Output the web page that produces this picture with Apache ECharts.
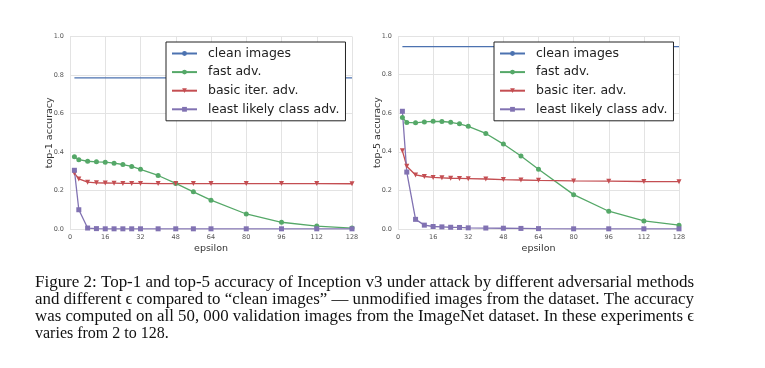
<!DOCTYPE html>
<html><head><meta charset="utf-8">
<script src="https://cdn.jsdelivr.net/npm/echarts@6/dist/echarts.min.js"></script>
<style>html,body{margin:0;padding:0;background:#fff}#c{width:765px;height:368px}</style>
</head><body><div id="c"></div>
<script>
const epsilons = [2,4,8,12,16,20,24,28,32,40,48,56,64,80,96,112,128];
const xTicks = [0,16,32,48,64,80,96,112,128];
const yTicks = [0.0,0.2,0.4,0.6,0.8,1.0];
const seriesNames = ['clean images','fast adv.','basic iter. adv.','least likely class adv.'];

const top1Clean = 0.785;
const top1Fast  = [0.375,0.360,0.352,0.349,0.347,0.342,0.335,0.325,0.310,0.278,0.237,0.193,0.150,0.078,0.035,0.015,0.005];
const top1Basic = [0.290,0.260,0.243,0.240,0.239,0.238,0.237,0.237,0.237,0.236,0.236,0.236,0.236,0.236,0.236,0.236,0.235];
const top1LL    = [0.305,0.100,0.005,0.002,0.001,0.001,0.001,0.001,0.001,0.001,0.001,0.001,0.001,0.001,0.001,0.001,0.001];

const top5Clean = 0.945;
const top5Fast  = [0.578,0.552,0.550,0.555,0.558,0.557,0.553,0.545,0.532,0.495,0.440,0.378,0.310,0.178,0.092,0.042,0.020];
const top5Basic = [0.405,0.325,0.280,0.272,0.267,0.265,0.263,0.262,0.261,0.259,0.256,0.254,0.252,0.249,0.248,0.246,0.245];
const top5LL    = [0.610,0.295,0.050,0.020,0.013,0.011,0.009,0.008,0.006,0.005,0.004,0.003,0.002,0.001,0.001,0.001,0.001];

const captionLines = [
  'Figure 2: Top-1 and top-5 accuracy of Inception v3 under attack by different adversarial methods',
  'and different \u03F5 compared to \u201Cclean images\u201D \u2014 unmodified images from the dataset. The accuracy',
  'was computed on all 50, 000 validation images from the ImageNet dataset. In these experiments \u03F5',
  'varies from 2 to 128.'
];
const captionJustify = [true, true, true, false];

const COLORS = ['#4C72B0','#55A868','#C44E52','#8172B2'];
const zip = (xs, ys) => xs.map((x,i)=>[x, ys[i]]);
const flat = (xs, v) => xs.map(x=>[x, v]);

function xAxis(gi){
  return {type:'value', gridIndex:gi, min:0, max:128, interval:16,
    name:'epsilon', nameLocation:'middle', nameGap:14.5, nameMoveOverlap:false,
    nameTextStyle:{fontFamily:'DejaVu Sans', fontSize:9.5, color:'#333'},
    axisLine:{show:false}, axisTick:{show:false},
    axisLabel:{fontFamily:'DejaVu Sans', fontSize:6.5, color:'#555', margin:5},
    splitLine:{show:true, lineStyle:{color:'#e3e3e3', width:1}}};
}
function yAxis(gi, name){
  return {type:'value', gridIndex:gi, min:0, max:1, interval:0.2,
    name:name, nameLocation:'middle', nameGap:15, nameMoveOverlap:false,
    nameTextStyle:{fontFamily:'DejaVu Sans', fontSize:9.5, color:'#333'},
    axisLine:{show:false}, axisTick:{show:false},
    axisLabel:{fontFamily:'DejaVu Sans', fontSize:6.5, color:'#555', margin:6, formatter:v=>v.toFixed(1)},
    splitLine:{show:true, lineStyle:{color:'#e3e3e3', width:1}}};
}
function mk(gi, clean, fast, basic, ll){
  const base = {type:'line', xAxisIndex:gi, yAxisIndex:gi, animation:false, lineStyle:{width:1.3}};
  return [
    Object.assign({}, base, {name:seriesNames[0], data:flat(epsilons, clean), symbol:'none', color:COLORS[0]}),
    Object.assign({}, base, {name:seriesNames[1], data:zip(epsilons, fast), symbol:'circle', symbolSize:5, color:COLORS[1]}),
    Object.assign({}, base, {name:seriesNames[2], data:zip(epsilons, basic), symbol:'triangle', symbolRotate:180, symbolSize:5, color:COLORS[2]}),
    Object.assign({}, base, {name:seriesNames[3], data:zip(epsilons, ll), symbol:'rect', symbolSize:5, color:COLORS[3]})
  ];
}
function legend(left){
  return {left:left, top:42, orient:'vertical', data:seriesNames,
    backgroundColor:'#fff', borderColor:'#222', borderWidth:1, padding:[4,6,4,5],
    itemWidth:25, itemHeight:6, itemGap:3.6,
    textStyle:{fontFamily:'DejaVu Sans', fontSize:12.5, lineHeight:15, color:'#222', padding:[0,0,0,6]}};
}

// caption: each line stretched horizontally to the justified width
const CAP_FONT = 16, CAP_LEFT = 35, CAP_WIDTH = 659;
const mctx = document.createElement('canvas').getContext('2d');
mctx.font = CAP_FONT + 'px "Liberation Serif"';
const caption = captionLines.map((t,i)=>{
  const w = mctx.measureText(t).width;
  const sx = captionJustify[i] ? CAP_WIDTH / w : 1;
  return {type:'text', x:CAP_LEFT, y:274.5 + i*17.2, scaleX:sx, silent:true,
    style:{text:t, fontFamily:'Liberation Serif', fontSize:CAP_FONT, fill:'#111', verticalAlign:'top'}};
});

const chart = echarts.init(document.getElementById('c'), null, {renderer:'canvas'});
chart.setOption({
  animation:false,
  color:COLORS,
  grid:[
    {left:70, right:413, top:36.5, bottom:139},
    {left:398, right:86, top:36, bottom:139}
  ],
  xAxis:[xAxis(0), xAxis(1)],
  yAxis:[yAxis(0,'top-1 accuracy'), yAxis(1,'top-5 accuracy')],
  legend:[legend(166), legend(494)],
  series:[].concat(mk(0, top1Clean, top1Fast, top1Basic, top1LL), mk(1, top5Clean, top5Fast, top5Basic, top5LL)),
  graphic: caption
});
</script></body></html>
